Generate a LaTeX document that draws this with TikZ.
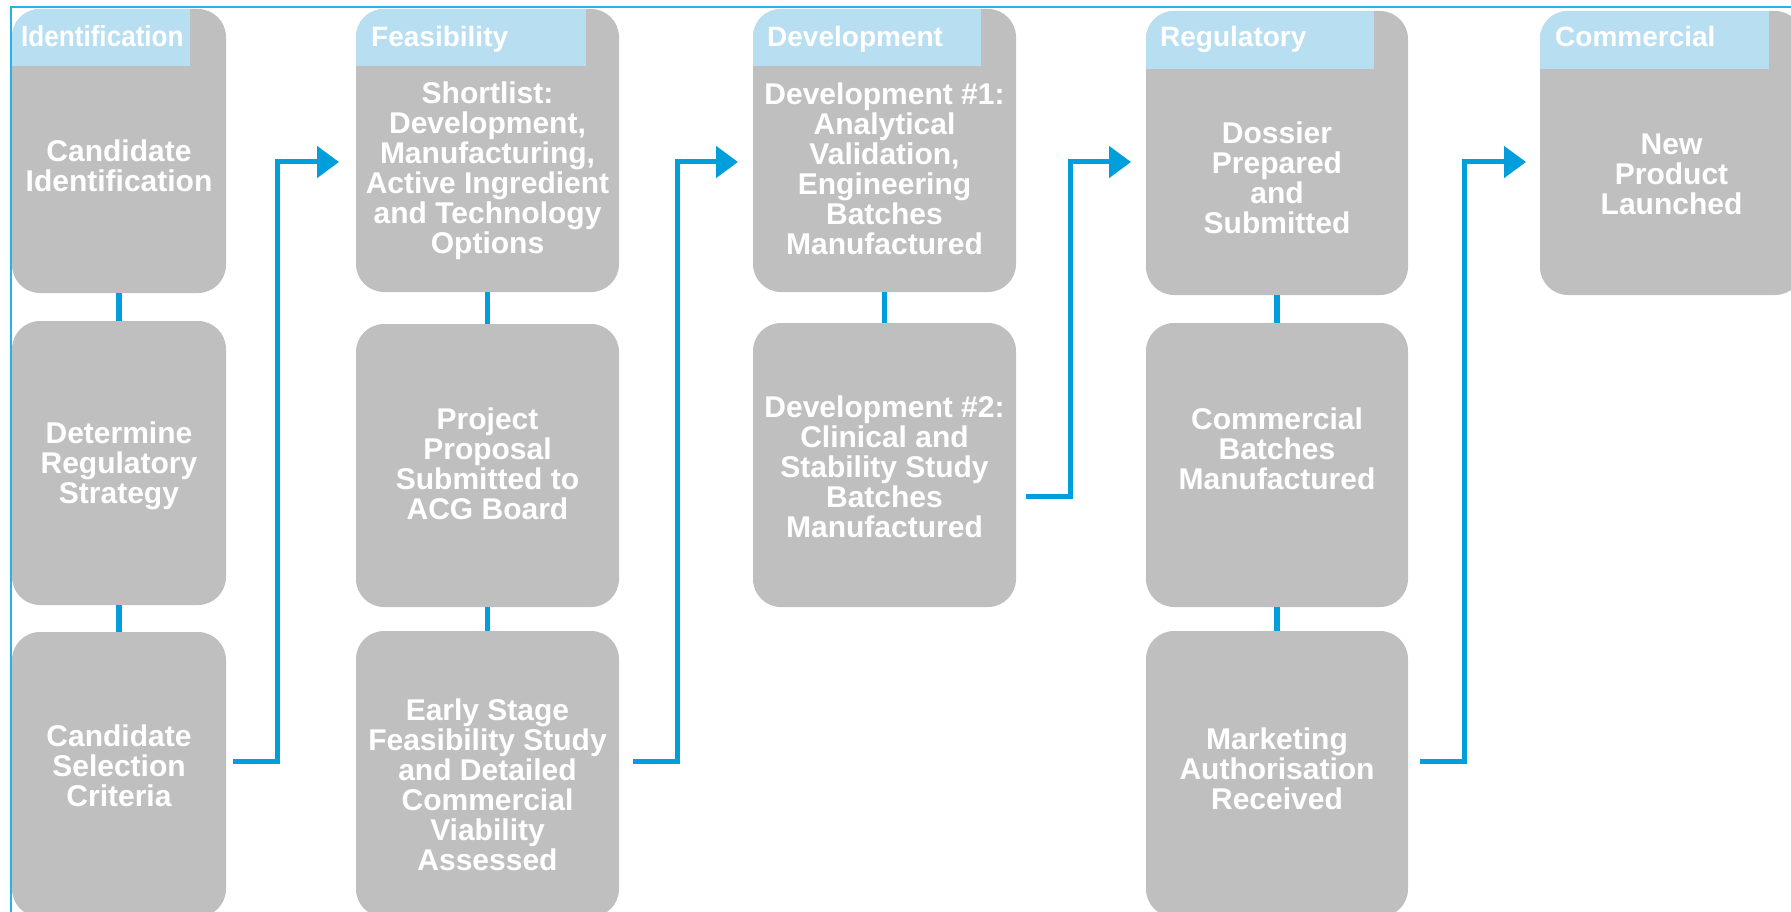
\documentclass[tikz,border=0pt]{standalone}
\usepackage{fontspec}
\setmainfont{Liberation Sans}
\newfontfamily\narrowsans[FakeStretch=0.9]{Liberation Sans}
\usetikzlibrary{arrows.meta}
\definecolor{boxgray}{RGB}{191,191,191}
\definecolor{hdrblue}{RGB}{184,223,241}
\definecolor{linkblue}{RGB}{0,159,219}
\definecolor{edgeblue}{RGB}{38,178,236}
\newcommand\bxstrut{\rule{0pt}{24pt}}
\begin{document}
\begin{tikzpicture}[x=1pt,y=-1pt,
  stagebox/.style={fill=boxgray, rounded corners=28pt, inner sep=0pt},
  hdrtext/.style={text=white, font=\fontsize{28}{28}\selectfont\bfseries, inner sep=0pt, anchor=base west},
  bodytext/.style={text=white, font=\fontsize{30}{30}\selectfont\bfseries, align=center, inner sep=0pt, anchor=north},
  link/.style={draw=linkblue, line width=5.5pt},
  arr/.style={draw=linkblue, line width=5pt, -{Triangle[length=22pt,width=31pt]}}]
\useasboundingbox (0,0) rectangle (1791,912);
\clip (0,0) rectangle (1791,912);

% frame lines
\draw[edgeblue, line width=2pt] (11,912) -- (11,7) -- (1791,7);

% column 1
\node[stagebox, minimum width=214pt, minimum height=284pt] (c1b1) at (119,151) {};
\node[stagebox, minimum width=214pt, minimum height=284pt] (c1b2) at (119,463) {};
\node[stagebox, minimum width=214pt, minimum height=285pt] (c1b3) at (119,774.5) {};
% column 2
\node[stagebox, minimum width=263pt, minimum height=283pt] (c2b1) at (487.5,150.5) {};
\node[stagebox, minimum width=263pt, minimum height=283pt] (c2b2) at (487.5,465.5) {};
\node[stagebox, minimum width=263pt, minimum height=286pt] (c2b3) at (487.5,774) {};
% column 3
\node[stagebox, minimum width=263pt, minimum height=283pt] (c3b1) at (884.5,150.5) {};
\node[stagebox, minimum width=263pt, minimum height=284pt] (c3b2) at (884.5,465) {};
% column 4
\node[stagebox, minimum width=262pt, minimum height=284pt] (c4b1) at (1277,153) {};
\node[stagebox, minimum width=262pt, minimum height=284pt] (c4b2) at (1277,465) {};
\node[stagebox, minimum width=262pt, minimum height=286pt] (c4b3) at (1277,774) {};
% column 5
\node[stagebox, minimum width=263pt, minimum height=284pt] (c5b1) at (1671.5,153) {};

% headers
\begin{scope}
\clip[rounded corners=28pt] (12,9) rectangle (226,293);
\fill[hdrblue] (12,9) rectangle (190,66);
\end{scope}
\begin{scope}
\clip[rounded corners=28pt] (356,9) rectangle (619,292);
\fill[hdrblue] (356,9) rectangle (586,66);
\end{scope}
\begin{scope}
\clip[rounded corners=28pt] (753,9) rectangle (1016,292);
\fill[hdrblue] (753,9) rectangle (981,66);
\end{scope}
\begin{scope}
\clip[rounded corners=28pt] (1146,11) rectangle (1408,295);
\fill[hdrblue] (1146,11) rectangle (1374,69);
\end{scope}
\begin{scope}
\clip[rounded corners=28pt] (1540,11) rectangle (1803,295);
\fill[hdrblue] (1540,11) rectangle (1769,69);
\end{scope}

\node[hdrtext, font=\narrowsans\fontsize{29}{29}\selectfont\bfseries] (c1h) at (21,47) {Identification};
\node[hdrtext] (c2h) at (371,47) {Feasibility};
\node[hdrtext] (c3h) at (767,47) {Development};
\node[hdrtext] (c4h) at (1160,47) {Regulatory};
\node[hdrtext] (c5h) at (1555,47) {Commercial};

% body texts
\node[bodytext] (c1t1) at (119,137.5) {\bxstrut Candidate\\Identification};
\node[bodytext] (c1t2) at (119,419.5) {\bxstrut Determine\\Regulatory\\Strategy};
\node[bodytext] (c1t3) at (119,722.5) {\bxstrut Candidate\\Selection\\Criteria};
\node[bodytext] (c2t1) at (487.5,79.5) {\bxstrut Shortlist:\\Development,\\Manufacturing,\\Active Ingredient\\and Technology\\Options};
\node[bodytext] (c2t2) at (487.5,405.5) {\bxstrut Project\\Proposal\\Submitted to\\ACG Board};
\node[bodytext] (c2t3) at (487.5,696.5) {\bxstrut Early Stage\\Feasibility Study\\and Detailed\\Commercial\\Viability\\Assessed};
\node[bodytext] (c3t1) at (884.5,80) {\bxstrut Development \#1:\\Analytical\\Validation,\\Engineering\\Batches\\Manufactured};
\node[bodytext] (c3t2) at (884.5,393.5) {\bxstrut Development \#2:\\Clinical and\\Stability Study\\Batches\\Manufactured};
\node[bodytext] (c4t1) at (1277,119.5) {\bxstrut Dossier\\Prepared\\and\\Submitted};
\node[bodytext] (c4t2) at (1277,405) {\bxstrut Commercial\\Batches\\Manufactured};
\node[bodytext] (c4t3) at (1277,725.5) {\bxstrut Marketing\\Authorisation\\Received};
\node[bodytext] (c5t1) at (1671.5,130.5) {\bxstrut New\\Product\\Launched};

% vertical links inside columns
\draw[link] (c1b1.south) -- (c1b2.north);
\draw[link] (c1b2.south) -- (c1b3.north);
\draw[link] (c2b1.south) -- (c2b2.north);
\draw[link] (c2b2.south) -- (c2b3.north);
\draw[link] (c3b1.south) -- (c3b2.north);
\draw[link] (c4b1.south) -- (c4b2.north);
\draw[link] (c4b2.south) -- (c4b3.north);

% elbow arrows between columns
\coordinate (a1s) at (233,761);
\coordinate (a1e) at (339,162);
\coordinate (a2s) at (633,761);
\coordinate (a2e) at (738,162);
\coordinate (a3s) at (1026,496);
\coordinate (a3e) at (1131,162);
\coordinate (a4s) at (1420,761);
\coordinate (a4e) at (1526,162);
\draw[arr] (a1s) -- ++(44,0) |- (a1e);
\draw[arr] (a2s) -- ++(44,0) |- (a2e);
\draw[arr] (a3s) -- ++(44,0) |- (a3e);
\draw[arr] (a4s) -- ++(44,0) |- (a4e);
\end{tikzpicture}
\end{document}
